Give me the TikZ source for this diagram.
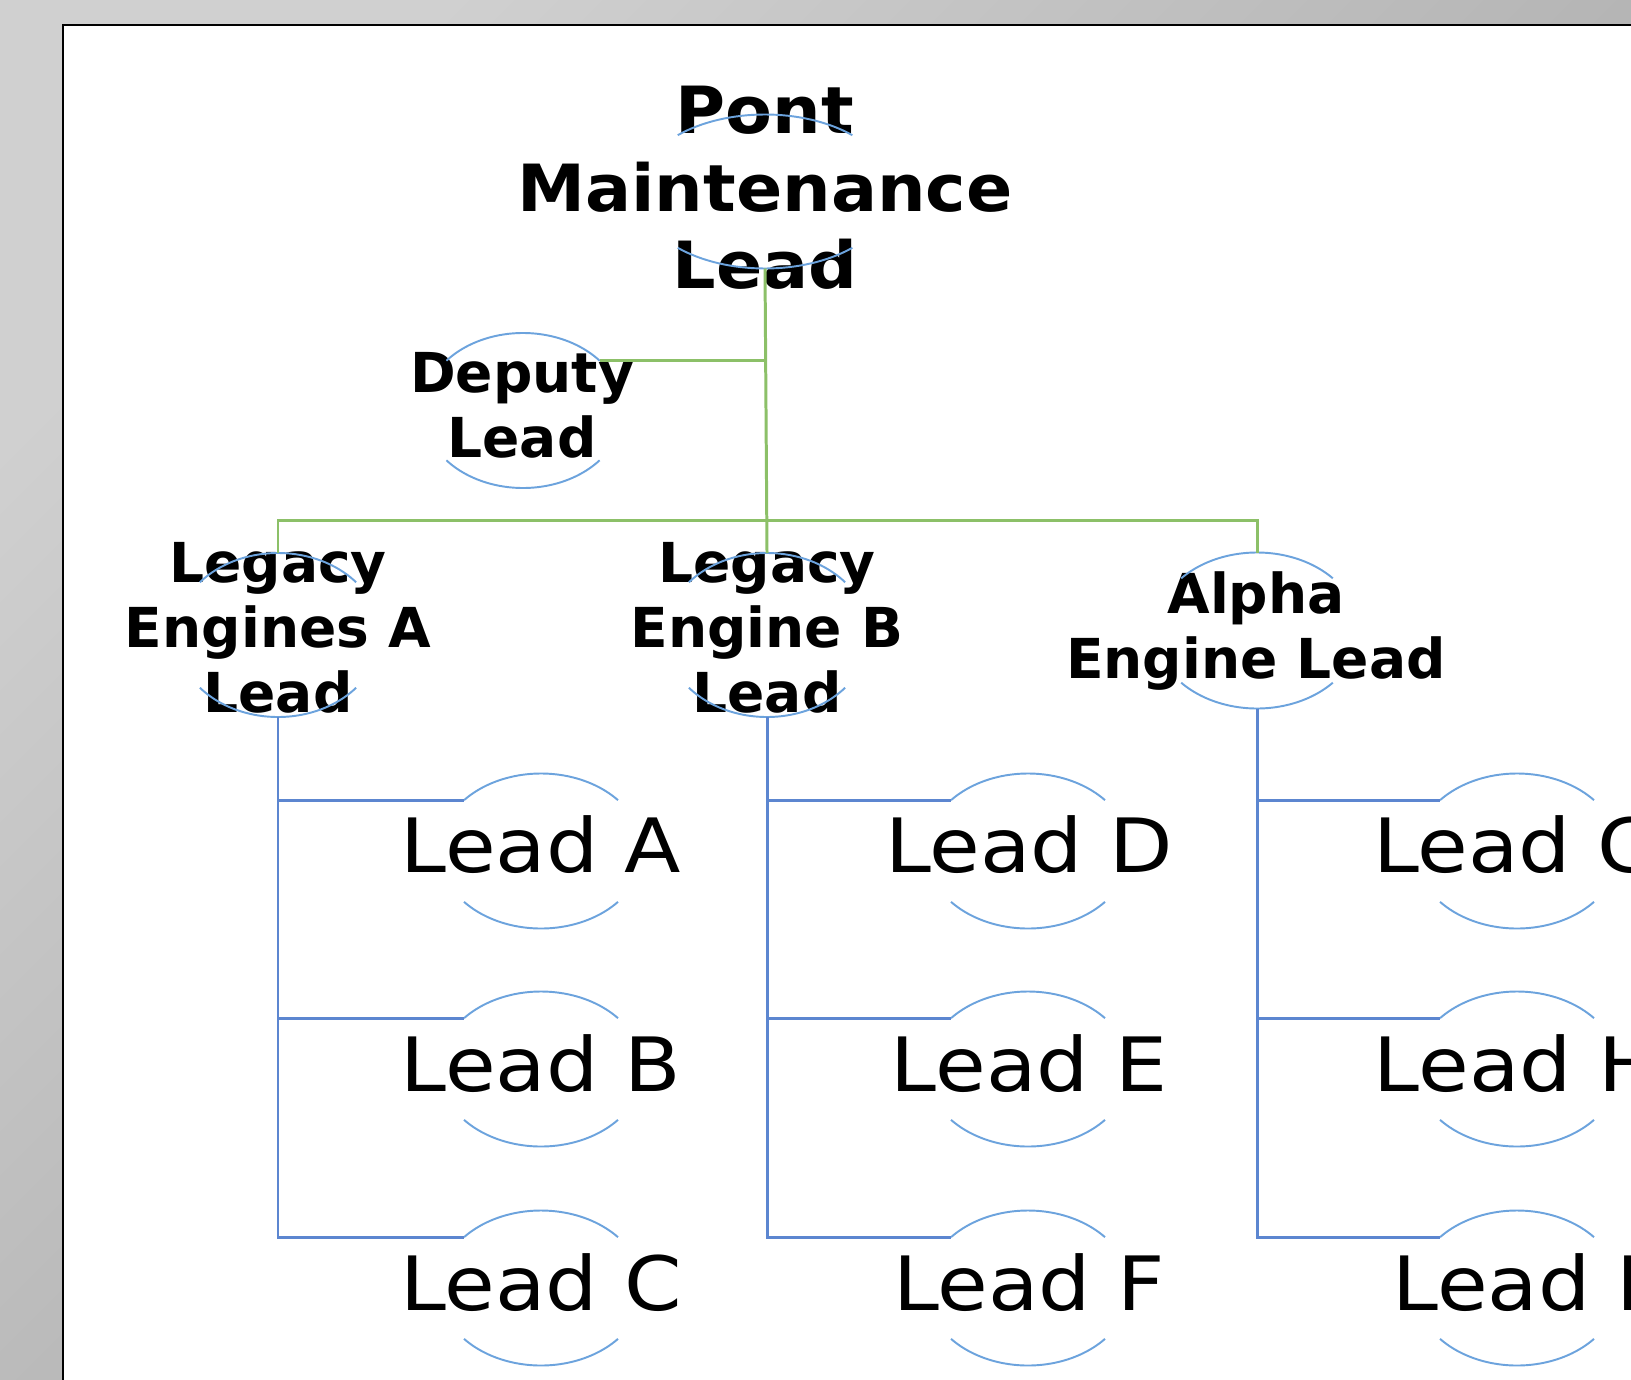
\documentclass[tikz,border=0pt]{standalone}
\usepackage{fontspec}
\setmainfont{DejaVu Sans}
\definecolor{grn}{RGB}{140,192,104}
\definecolor{cblue}{RGB}{92,134,208}
\definecolor{ablue}{RGB}{108,163,221}
\definecolor{bgA}{RGB}{208,208,208}
\definecolor{bgB}{RGB}{160,160,160}
\newcommand\mylines[1]{\begin{tabular}[t]{@{}c@{}}#1\end{tabular}}
% half-circle frame: name, x, y, x radius, y radius, angle
\newcommand\hcirc[6]{%
  \coordinate (#1-c) at (#2,#3);
  \coordinate (#1-n) at (#2,#3+#5);
  \coordinate (#1-s) at (#2,#3-#5);
  \coordinate (#1-tl) at ({#2-#4*cos(#6)},{#3+#5*sin(#6)});
  \coordinate (#1-tr) at ({#2+#4*cos(#6)},{#3+#5*sin(#6)});
  \coordinate (#1-bl) at ({#2-#4*cos(#6)},{#3-#5*sin(#6)});
  \draw[arcst] (#1-tl) arc[start angle=180-#6, end angle=#6, x radius=#4, y radius=#5];
  \draw[arcst] (#1-bl) arc[start angle=180+#6, end angle=360-#6, x radius=#4, y radius=#5];
}
\begin{document}
\begin{tikzpicture}[x=0.01cm,y=0.01cm,
  arcst/.style={draw=ablue, line width=0.55pt},
  gline/.style={draw=grn, line width=0.85pt},
  bline/.style={draw=cblue, line width=0.85pt},
  ttl/.style={anchor=base, inner sep=0pt, font=\fontsize{18.5}{21.9}\selectfont\bfseries, xscale=1.05},
  midl/.style={anchor=base, inner sep=0pt, font=\fontsize{15.65}{18.5}\selectfont\bfseries},
  leaf/.style={anchor=base, inner sep=0pt, font=\fontsize{21.3}{25}\selectfont, xscale=1.1}]
\useasboundingbox (0,0) rectangle (1631,-1379);
\clip (0,0) rectangle (1631,-1379);
% background and page
\shade[top color=bgA, bottom color=bgB, shading angle=45] (0,0) rectangle (1631,-1379);
\draw[line width=0.6pt, fill=white] (63,-25) rectangle (1700,-1450);
% texts
\node[ttl] (pml) at (765,-134) {\mylines{Pont\\Maintenance\\Lead}};
\node[midl] (dep) at (522,-392) {\mylines{Deputy\\Lead}};
\node[midl] (la) at (278,-582) {\mylines{Legacy\\Engines A\\Lead}};
\node[midl] (lb) at (767,-582) {\mylines{Legacy\\Engine B\\Lead}};
\node[midl] (al) at (1256,-613) {\mylines{Alpha\\Engine Lead}};
\node[leaf] (lA) at (541,-872) {Lead A};
\node[leaf] (lB) at (541,-1091) {Lead B};
\node[leaf] (lC) at (541,-1310) {Lead C};
\node[leaf] (lD) at (1029,-872) {Lead D};
\node[leaf] (lE) at (1029,-1091) {Lead E};
\node[leaf] (lF) at (1029,-1310) {Lead F};
\node[leaf] (lG) at (1517,-872) {Lead G};
\node[leaf] (lH) at (1517,-1091) {Lead H};
\node[leaf] (lI) at (1517,-1310) {Lead I};
% half circles
\hcirc{pml}{765}{-191.5}{128}{77}{47}
\hcirc{dep}{523}{-410.5}{100}{77.5}{40}
\hcirc{la}{278}{-635}{102}{82}{40}
\hcirc{lb}{767}{-635}{102}{82}{40}
\hcirc{al}{1257}{-630.5}{102}{78}{42}
\hcirc{lA}{541}{-851}{102}{77.5}{41}
\hcirc{lB}{541}{-1069}{102}{77.5}{41}
\hcirc{lC}{541}{-1288}{102}{77.5}{41}
\hcirc{lD}{1028}{-851}{102}{77.5}{41}
\hcirc{lE}{1028}{-1069}{102}{77.5}{41}
\hcirc{lF}{1028}{-1288}{102}{77.5}{41}
\hcirc{lG}{1517}{-851}{102}{77.5}{41}
\hcirc{lH}{1517}{-1069}{102}{77.5}{41}
\hcirc{lI}{1517}{-1288}{102}{77.5}{41}
% green connectors
\coordinate (bus) at (767,-520);
\draw[gline] (pml-s) -- (lb-n);
\draw[gline] (la-n) |- (bus) -| (al-n);
\draw[gline] (dep-tr) -- (dep-tr -| pml-s);
% blue connectors
\foreach \p/\k in {la/lA,la/lB,la/lC,lb/lD,lb/lE,lb/lF,al/lG,al/lH,al/lI}
  \draw[bline] (\p-s) |- (\k-tl);
\end{tikzpicture}
\end{document}
